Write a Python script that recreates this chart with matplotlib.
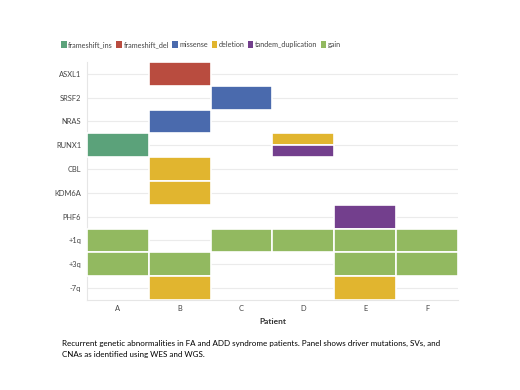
import numpy as np
import matplotlib.pyplot as plt
from matplotlib.patches import Patch

plt.rcParams['font.family'] = ['Lato', 'DejaVu Sans']

patients = ['A', 'B', 'C', 'D', 'E', 'F']
genes = ['ASXL1', 'SRSF2', 'NRAS', 'RUNX1', 'CBL', 'KDM6A', 'PHF6', '+1q', '+3q', '-7q']
types = ['frameshift_ins', 'frameshift_del', 'missense', 'deletion', 'tandem_duplication', 'gain']
colors = ['#5ba27a', '#b94c3f', '#4a6aad', '#e1b52f', '#733f8d', '#92b960']

# (patient, gene, alteration type)
events = [
    ('A', 'RUNX1', 'frameshift_ins'), ('A', '+1q', 'gain'), ('A', '+3q', 'gain'),
    ('B', 'ASXL1', 'frameshift_del'), ('B', 'NRAS', 'missense'), ('B', 'CBL', 'deletion'),
    ('B', 'KDM6A', 'deletion'), ('B', '+3q', 'gain'), ('B', '-7q', 'deletion'),
    ('C', 'SRSF2', 'missense'), ('C', '+1q', 'gain'),
    ('D', 'RUNX1', 'deletion'), ('D', 'RUNX1', 'tandem_duplication'), ('D', '+1q', 'gain'),
    ('E', 'PHF6', 'tandem_duplication'), ('E', '+1q', 'gain'), ('E', '+3q', 'gain'),
    ('E', '-7q', 'deletion'),
    ('F', '+1q', 'gain'), ('F', '+3q', 'gain'),
]

fig = plt.figure(figsize=(5.2, 3.9), dpi=100)
ax = fig.add_axes([0.167, 0.231, 0.714, 0.610])

# cells holding more than one event are split into stacked parts
cells = {}
for p, g, t in events:
    cells.setdefault((p, g), []).append(t)

for (p, g), ts in cells.items():
    x = patients.index(p)
    y = genes.index(g)
    h = 1.0 / len(ts)
    for k, t in enumerate(ts):
        ax.bar(x, h, width=1.0, bottom=y - 0.5 + k * h,
               color=colors[types.index(t)], edgecolor='white', linewidth=1.2, zorder=3)

ax.set_xlim(-0.5, len(patients) - 0.5)
ax.set_ylim(len(genes) - 0.5, -0.5)
ax.set_xticks(range(len(patients)))
ax.set_xticklabels(patients)
ax.set_yticks(range(len(genes)))
ax.set_yticklabels(genes)
ax.tick_params(length=0, labelsize=5.4, colors='#444444', pad=4)
ax.grid(axis='y', color='#ebebeb', linewidth=0.8, zorder=0)
for s in ['top', 'right']:
    ax.spines[s].set_visible(False)
for s in ['left', 'bottom']:
    ax.spines[s].set_color('#e6e6e6')
    ax.spines[s].set_linewidth(0.8)
ax.set_xlabel('Patient', fontsize=6, fontweight='bold', color='#333333', labelpad=4)

handles = [Patch(facecolor=c, edgecolor='none') for c in colors]
fig.legend(handles, types, loc='center left', bbox_to_anchor=(0.105, 0.885), ncol=6,
           frameon=False, fontsize=5.2, handlelength=0.75, handleheight=1.1,
           handletextpad=0.25, columnspacing=0.45, labelcolor='#444444')

fig.text(0.119, 0.105, 'Recurrent genetic abnormalities in FA and ADD syndrome patients. Panel shows driver mutations, SVs, and\nCNAs as identified using WES and WGS.',
         fontsize=5.8, va='center', ha='left', linespacing=1.55)

fig.savefig('out.png', dpi=100)
